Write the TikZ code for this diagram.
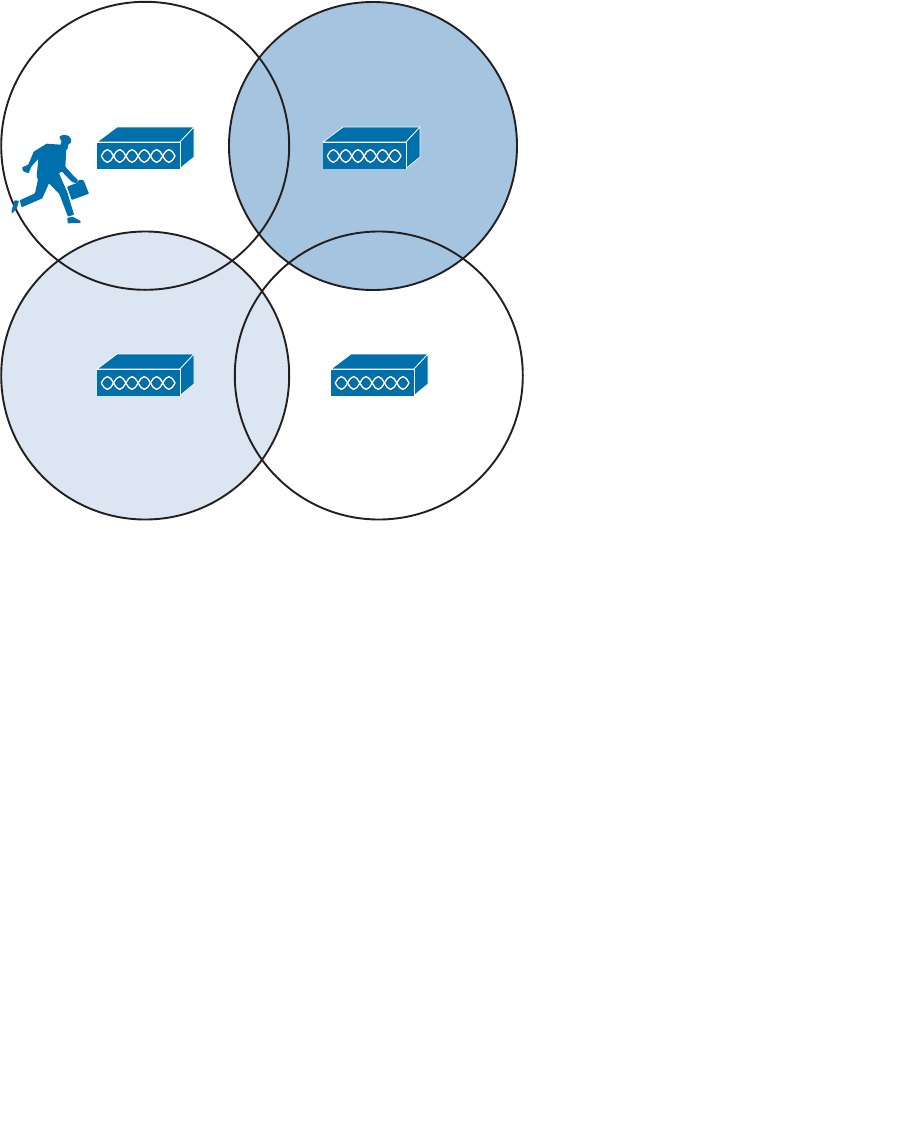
\documentclass[tikz,border=0pt]{standalone}
\definecolor{ciscoblue}{HTML}{0070AC}
\definecolor{midfill}{HTML}{A5C4E0}
\definecolor{lightfill}{HTML}{DCE6F2}
\definecolor{ringline}{HTML}{231F20}
\tikzset{
  ring/.style={draw=ringline,line width=1.9pt},
  facefill/.style={fill=ciscoblue,draw=white,line width=0.7pt,line join=round},
  figurefill/.style={fill=ciscoblue,draw=none,rounded corners=0.7pt},
  lens/.pic={
    \draw[line join=round] (0,0) .. controls (2.2,-3.4) and (3.4,-6.4) .. (6.15,-6.4)
      .. controls (8.9,-6.4) and (10.1,-3.4) .. (12.3,0)
      .. controls (10.1,3.4) and (8.9,6.4) .. (6.15,6.4)
      .. controls (3.4,6.4) and (2.2,3.4) .. (0,0);
  },
  pics/router/.style={code={
    \path[facefill] (0,0) -- (20,-15) -- (97,-15) -- (83,0) -- cycle;
    \path[facefill] (83,0) -- (97,-15) -- (97,15) -- (83,26.5) -- cycle;
    \path[fill=ciscoblue,draw=none] (0,0) rectangle (83,26.5);
    \draw[white,line width=0.7pt] (0,0) -- (83,0) -- (83,26.5);
    \foreach \i in {0,...,5}{
      \pic[black!80,line width=0.9pt] at ({\i*12.3+4.9},14.5) {lens};
    }
    \foreach \i in {0,...,5}{
      \pic[white,line width=1.4pt] at ({\i*12.3+4.3},14) {lens};
    }
  }}
}
\begin{document}
\begin{tikzpicture}[x=1pt,y=-1pt]
\useasboundingbox (0,0) rectangle (917,1141);
\path[fill=white] (0,0) rectangle (917,1141);
% fills
\path[fill=lightfill] (145.2,375.5) circle[radius=144];
\path[fill=midfill] (373,146) circle[radius=144];
% outlines
\draw[ring] (145.2,145.8) circle[radius=144];
\draw[ring] (373,146) circle[radius=144];
\draw[ring] (145.2,375.5) circle[radius=144];
\draw[ring] (378.8,375.5) circle[radius=144];
% access points
\pic at (97,142) {router};
\pic at (323,142) {router};
\pic at (97,369) {router};
\pic at (331,369) {router};
% running figure
\begin{scope}[shift={(5,130)},x=0.3333pt,y=-0.3333pt]
\path[figurefill] (163,20) -- (175,14) -- (190,17) -- (199,28) -- (198,38) -- (190,43) -- (188,56) -- (182,62) -- (165,45) -- (170,36) -- cycle;
\path[figurefill] (125,41) -- (166,44) -- (184,60) -- (181,110) -- (207,139) -- (219,150) -- (216,160) -- (201,156) -- (170,124)
  -- (162,130) -- (187,187) -- (207,254) -- (189,260) -- (163,192) -- (132,160) -- (112,205) -- (50,232) -- (44,211) -- (90,190)
  -- (99,148) -- (95,140) -- (100,86) -- (79,110) -- (71,130) -- (55,124) -- (51,112) -- (70,104) -- (86,65) -- cycle;
\path[figurefill] (187,263) -- (205,261) -- (228,274) -- (226,279) -- (188,280) -- cycle;
\path[figurefill] (28,211) -- (42,212) -- (36,234) -- (21,251) -- (19,246) -- cycle;
\path[figurefill] (186,170) -- (218,158) -- (221,150) -- (230,149) -- (236,151) -- (252,191) -- (200,210) -- cycle;
\end{scope}
\end{tikzpicture}
\end{document}
